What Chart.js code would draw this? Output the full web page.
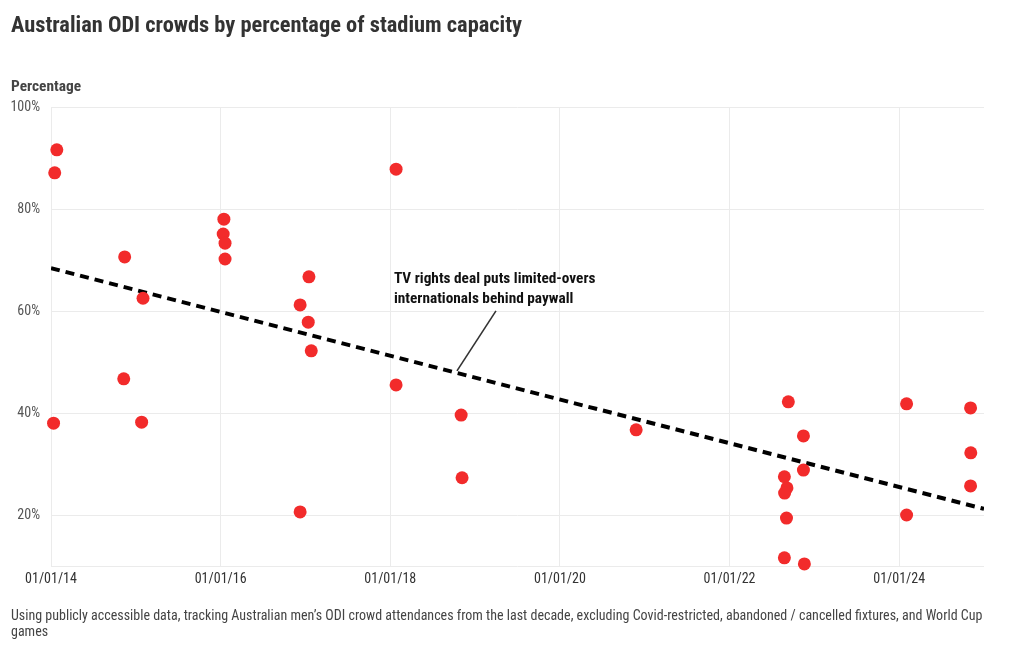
<!DOCTYPE html>
<html>
<head>
<meta charset="utf-8">
<script src="https://cdn.jsdelivr.net/npm/chart.js@4.4.1/dist/chart.umd.min.js"></script>
<style>
  html, body { margin: 0; padding: 0; background: #fff; }
  body { width: 1020px; height: 650px; position: relative; overflow: hidden;
         font-family: "Roboto Condensed", "Liberation Sans Narrow", "DejaVu Sans Condensed", sans-serif; }
  #wrap { position: absolute; left: 0; top: 0; width: 1020px; height: 650px; }
  .title { position: absolute; left: 11px; top: 11px; font-size: 22.4px; font-weight: bold; color: #333; white-space: nowrap; }
  .ylabel { position: absolute; left: 11px; top: 77px; font-size: 15.4px; font-weight: bold; color: #444; }
  .note { position: absolute; left: 11px; top: 607px; font-size: 14px; line-height: 16px; color: #444; }
  #annot { position: absolute; font-size: 15.3px; font-weight: bold; line-height: 20px; color: #111; white-space: nowrap; }
</style>
</head>
<body>
<div id="wrap"><canvas id="chart" width="1020" height="650"></canvas></div>
<div class="title">Australian ODI crowds by percentage of stadium capacity</div>
<div class="ylabel">Percentage</div>
<div id="annot">TV rights deal puts limited-overs<br>internationals behind paywall</div>
<div class="note">Using publicly accessible data, tracking Australian men’s ODI crowd attendances from the last decade, excluding Covid-restricted, abandoned / cancelled fixtures, and World Cup<br>games</div>
<script>
// match dates
const matchDates = [
  '2014-01-12', '2014-01-17', '2014-01-26', '2014-11-14', '2014-11-10', '2015-02-01', '2015-01-26',
  '2016-01-15', '2016-01-12', '2016-01-20', '2016-01-20', '2017-01-16', '2016-12-09', '2017-01-13',
  '2017-01-26', '2016-12-09', '2018-01-26', '2018-01-26', '2018-11-02', '2018-11-06', '2020-11-25',
  '2022-09-11', '2022-11-15', '2022-08-25', '2022-09-05', '2022-08-26', '2022-11-15', '2022-09-03',
  '2022-08-25', '2022-11-19', '2024-02-02', '2024-02-02', '2024-11-04', '2024-11-05', '2024-11-04'
];
// crowd as % of stadium capacity
const capacityPct = [
  38.0, 87.1, 91.6, 70.6, 46.7, 62.5, 38.2,
  78.0, 75.1, 73.3, 70.2, 66.7, 61.2, 57.8,
  52.2, 20.6, 87.8, 45.5, 39.6, 27.3, 36.7,
  42.2, 35.5, 27.5, 25.3, 24.3, 28.8, 19.4,
  11.6, 10.4, 41.8, 20.0, 41.0, 32.2, 25.7
];
// trend line end points
const trendDates = ['2014-01-01', '2025-01-01'];
const trendPct = [68.4, 21.2];

const xTickYears = [2014, 2016, 2018, 2020, 2022, 2024];
const yTickValues = [20, 40, 60, 80, 100];
const annotDate = '2018-10-15';

const toYear = s => {
  const d = new Date(s + 'T00:00:00Z');
  const y = d.getUTCFullYear();
  const a = Date.UTC(y, 0, 1), b = Date.UTC(y + 1, 0, 1);
  return y + (d.getTime() - a) / (b - a);
};

const points = matchDates.map((d, i) => ({ x: toYear(d), y: capacityPct[i] }));
const trend = trendDates.map((d, i) => ({ x: toYear(d), y: trendPct[i] }));

const FONT = '"Roboto Condensed", "Liberation Sans Narrow", "DejaVu Sans Condensed", sans-serif';

// callout line + label position
const annotPlugin = {
  id: 'annot',
  afterDraw(chart) {
    const xs = chart.scales.x, ys = chart.scales.y;
    const ax = toYear(annotDate);
    const t = (ax - trend[0].x) / (trend[1].x - trend[0].x);
    const ay = trend[0].y + t * (trend[1].y - trend[0].y);
    const px = xs.getPixelForValue(ax), py = ys.getPixelForValue(ay);
    const ctx = chart.ctx;
    ctx.save();
    ctx.strokeStyle = '#333';
    ctx.lineWidth = 1.6;
    ctx.beginPath();
    ctx.moveTo(px, py - 2);
    ctx.lineTo(px + 39, py - 62);
    ctx.stroke();
    ctx.restore();
    const el = document.getElementById('annot');
    el.style.left = (px - 63) + 'px';
    el.style.top = (py - 105) + 'px';
  }
};

new Chart(document.getElementById('chart'), {
  type: 'scatter',
  data: {
    datasets: [
      {
        type: 'line',
        data: trend,
        borderColor: '#000',
        borderWidth: 4,
        borderDash: [9, 6],
        pointRadius: 0,
        fill: false,
        order: 2
      },
      {
        data: points,
        backgroundColor: '#f22b2b',
        borderWidth: 0,
        pointRadius: 6.5,
        pointHoverRadius: 6.5,
        clip: false,
        order: 1
      }
    ]
  },
  options: {
    responsive: false,
    animation: false,
    events: [],
    layout: { padding: { left: 0, right: 36, top: 107, bottom: 44 } },
    plugins: { legend: { display: false }, tooltip: { enabled: false } },
    scales: {
      x: {
        type: 'linear',
        min: 2014, max: 2025,
        afterBuildTicks: s => { s.ticks = xTickYears.map(v => ({ value: v })); },
        afterFit: s => { s.height = 40; },
        grid: { color: '#ebebeb', drawTicks: false },
        border: { display: false },
        ticks: {
          padding: 5,
          color: '#333',
          font: { family: FONT, size: 14 },
          callback: v => '01/01/' + String(v).slice(2)
        }
      },
      y: {
        min: 10, max: 100,
        afterBuildTicks: s => { s.ticks = [10].concat(yTickValues).map(v => ({ value: v })); },
        afterFit: s => { s.width = 51; },
        grid: { color: '#ebebeb', drawTicks: false },
        border: { display: false },
        ticks: {
          padding: 11,
          color: '#555',
          font: { family: FONT, size: 14 },
          callback: v => (v === 10 ? '' : v + '%')
        }
      }
    }
  },
  plugins: [annotPlugin]
});
</script>
</body>
</html>
